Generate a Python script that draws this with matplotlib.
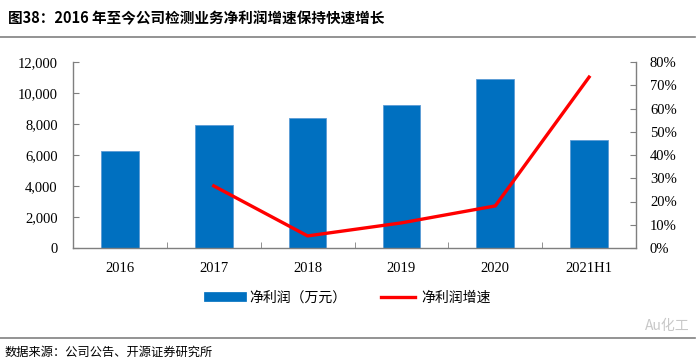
import matplotlib.pyplot as plt
from matplotlib.lines import Line2D
from matplotlib.ticker import FuncFormatter, PercentFormatter, FixedLocator

plt.rcParams['font.family'] = ['Liberation Serif', 'Noto Sans CJK SC', 'DejaVu Sans']

years = ["2016", "2017", "2018", "2019", "2020", "2021H1"]
profit = [6260, 7940, 8390, 9230, 10900, 6970]  # 万元
growth = [None, 26.7, 5.2, 10.8, 18.1, 73.5]     # %

cjk = ['Noto Sans CJK SC', 'DejaVu Sans']
axis_col = "#7f7f7f"

fig = plt.figure(figsize=(7, 3.63), dpi=100)
ax = fig.add_axes([73/700, 1-248/363, (636-73)/700, (248-62)/363])
ax2 = ax.twinx()

x = list(range(len(years)))
ax.bar(x, profit, width=0.4, color="#0070C0", edgecolor="#5b9bd5", linewidth=0.6, zorder=2)
gx = [i for i, g in zip(x, growth) if g is not None]
gy = [g for g in growth if g is not None]
ax2.plot(gx, gy, color="#ff0000", linewidth=2.4, zorder=3)

ax.set_xlim(-0.5, len(years) - 0.5)
ax.set_ylim(0, 12000)
ax.set_yticks(range(0, 12001, 2000))
ax.yaxis.set_major_formatter(FuncFormatter(lambda v, p: f"{int(v):,}"))
ax2.set_ylim(0, 80)
ax2.set_yticks(range(0, 81, 10))
ax2.yaxis.set_major_formatter(PercentFormatter(decimals=0))

ax.set_xticks(x)
ax.set_xticklabels(years)
ax.xaxis.set_minor_locator(FixedLocator([i + 0.5 for i in x[:-1]]))
ax.tick_params(axis='x', which='major', length=0, pad=10, labelsize=10.5)
ax.tick_params(axis='x', which='minor', length=4, direction='in', color=axis_col)
ax.tick_params(axis='y', direction='in', length=4, color=axis_col, labelsize=10.5, pad=11)
ax2.tick_params(axis='y', direction='in', length=4, color=axis_col, labelsize=10.5, pad=10)

for a in (ax, ax2):
    a.spines['top'].set_visible(False)
    for s in ('left', 'right', 'bottom'):
        a.spines[s].set_color(axis_col)
        a.spines[s].set_linewidth(1)
ax.spines['right'].set_visible(False)
ax2.spines['left'].set_visible(False)
ax2.spines['bottom'].set_visible(False)

handles = [Line2D([], [], color="#0070C0", linewidth=7),
           Line2D([], [], color="#ff0000", linewidth=2.4)]
fig.legend(handles, ["净利润（万元）", "净利润增速"], loc='center', bbox_to_anchor=(0.5, 1-298/363),
           ncol=2, frameon=False, prop={'family': cjk, 'size': 10}, handlelength=2.4,
           columnspacing=2.5, handletextpad=0.5)

fig.text(8/700, 1-18/363, "图38：2016 年至今公司检测业务净利润增速保持快速增长",
         fontsize=10.5, fontweight='bold', family=cjk, va='center', ha='left', color="#000000")
fig.add_artist(Line2D([0, 695/700], [1-37/363, 1-37/363], color="#808080", linewidth=1.2))
fig.add_artist(Line2D([0, 695/700], [1-338/363, 1-338/363], color="#808080", linewidth=1.2))
fig.text(5/700, 1-352/363, "数据来源：公司公告、开源证券研究所", fontsize=8.8, family=cjk,
         va='center', ha='left')
fig.text(690/700, 1-326/363, "Au化工", fontsize=10, family=cjk, color="#c8c8c8",
         va='center', ha='right')

fig.savefig("out.png", dpi=100)
